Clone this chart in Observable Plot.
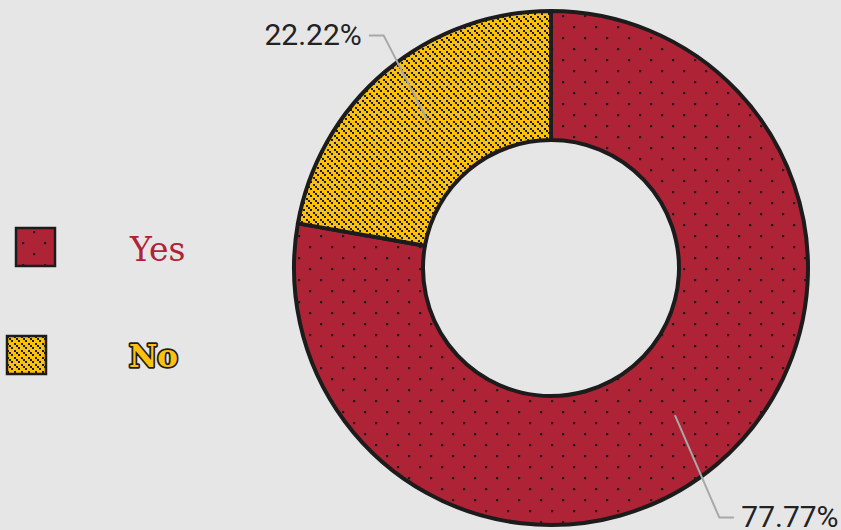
<!DOCTYPE html>
<html><head><meta charset="utf-8">
<script src="https://cdn.jsdelivr.net/npm/d3@7"></script>
<script src="https://cdn.jsdelivr.net/npm/@observablehq/plot@0.6"></script>
<style>
html,body{margin:0;padding:0;background:#e6e6e6;}
#wrap{position:relative;width:841px;height:530px;overflow:hidden;}
#wrap svg{position:absolute;left:0;top:0;}
</style></head>
<body>
<svg width="0" height="0" style="position:absolute">
  <defs>
    <pattern id="pat-0" patternUnits="userSpaceOnUse" width="22" height="22">
      <rect width="22" height="22" fill="#af2336"></rect>
      <rect x="0" y="0" width="2.2" height="2.2" fill="#1c1c1c"></rect>
      <rect x="11" y="11" width="2.2" height="2.2" fill="#1c1c1c"></rect>
    </pattern>
    <pattern id="pat-1" patternUnits="userSpaceOnUse" width="7" height="7">
      <rect width="7" height="7" fill="#fcc10f"></rect>
      <rect x="0" y="0" width="2" height="2" fill="#1c1c1c"></rect>
      <rect x="2" y="2" width="2" height="2" fill="#1c1c1c"></rect>
      <rect x="4" y="4" width="2" height="2" fill="#1c1c1c"></rect>
    </pattern>
  </defs>
</svg>
<div id="wrap"></div>
<script>
// ---- data ----
const categories = ["Yes", "No"];
const values = [77.77, 22.22];
const labels = ["77.77%", "22.22%"];
const colors = ["#af2336", "#fcc10f"];

const W = 841, H = 530;
const outerR = 257, innerR = 128;
const data = categories.map((c, i) => ({category: c, value: values[i], label: labels[i]}));
const arcs = d3.pie().sort(null).value(d => d.value)(data);

// leader lines & label positions computed from slice angles
const lead = [], textData = [];
arcs.forEach((a, i) => {
  const m = (a.startAngle + a.endAngle) / 2;
  const s = Math.sin(m), c = Math.cos(m);
  const rMid = (innerR + outerR) / 2;
  const p0 = [s * rMid, -c * rMid];
  const ry = outerR + (c > 0 ? 47 : 68);
  const p1 = [s * (outerR + 4), -c * ry];
  const dir = s >= 0 ? 1 : -1;
  const p2 = [p1[0] + dir * 14, p1[1]];
  [p0, p1, p2].forEach(p => lead.push({k: i, x: p[0], y: p[1]}));
  textData.push({x: p2[0] + dir * 8, y: p2[1], label: a.data.label, anchor: dir > 0 ? "start" : "end"});
});

function donut(index, scales) {
  const {x, y} = scales;
  const g = d3.create("svg:g").attr("transform", `translate(${x(0)},${y(0)})`);
  const arc = d3.arc().innerRadius(innerR).outerRadius(outerR);
  g.selectAll("path").data(arcs).join("path")
    .attr("d", arc)
    .attr("fill", d => `url(#pat-${d.index})`)
    .attr("stroke", "#1c1c1c")
    .attr("stroke-width", 4)
    .attr("stroke-linejoin", "round");
  return g.node();
}

const chart = Plot.plot({
  width: W, height: H,
  margin: 0,
  style: {background: "transparent", overflow: "visible"},
  x: {domain: [-551, W - 551], range: [0, W], axis: null},
  y: {domain: [-268, H - 268], range: [0, H], axis: null},
  marks: [
    donut,
    Plot.line(lead, {x: "x", y: "y", z: "k", stroke: "#a8a8a8", strokeWidth: 2}),
    Plot.text(textData.filter(d => d.anchor === "start"), {x: "x", y: "y", text: "label", textAnchor: "start", fontSize: 30, fill: "#222", fontFamily: "Roboto", lineAnchor: "middle"}),
    Plot.text(textData.filter(d => d.anchor === "end"), {x: "x", y: "y", text: "label", textAnchor: "end", fontSize: 30, fill: "#222", fontFamily: "Roboto", lineAnchor: "middle"})
  ]
});
document.getElementById("wrap").appendChild(chart);

// ---- legend (left side) ----
const lg = d3.select("#wrap").append("svg").attr("width", 240).attr("height", H);
const legendRows = [
  {sx: 16, sy: 228, tx: 130, ty: 261, text: categories[0]},
  {sx: 7, sy: 336, tx: 129, ty: 367, text: categories[1]}
];
legendRows.forEach((r, i) => {
  lg.append("rect").attr("x", r.sx).attr("y", r.sy).attr("width", 39).attr("height", 38)
    .attr("fill", `url(#pat-${i})`).attr("stroke", "#1c1c1c").attr("stroke-width", 2.5);
  const t = lg.append("text").attr("x", r.tx).attr("y", r.ty).text(r.text)
    .attr("font-family", "DejaVu Serif");
  if (i === 0) {
    t.attr("font-size", 33).attr("fill", colors[0]);
  } else {
    t.attr("font-size", 31).attr("font-weight", "bold").attr("fill", colors[1])
     .attr("stroke", "#1c1c1c").attr("stroke-width", 3.5).attr("paint-order", "stroke")
     .attr("stroke-linejoin", "round");
  }
});
</script>
</body></html>
